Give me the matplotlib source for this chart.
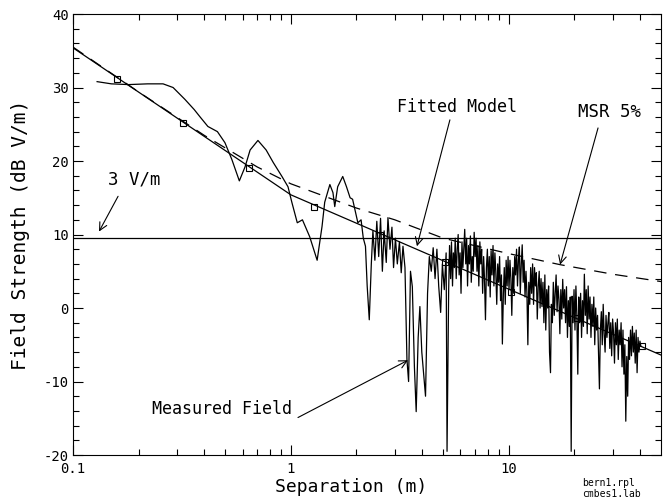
import numpy as np
import matplotlib
matplotlib.use("Agg")
import matplotlib.pyplot as plt
from matplotlib.ticker import FixedLocator, FixedFormatter

plt.rcParams['font.family'] = ['DejaVu Sans Mono']
plt.rcParams['axes.unicode_minus'] = False

# fitted model (two-slope line in log distance)
fit_x = [0.1, 1.0, 50.0]
fit_y = [35.4, 15.4, -6.4]
# square markers on the fitted model
mark_x = [0.16, 0.32, 0.64, 1.28, 2.56, 5.12, 10.24, 20.48, 40.96]
mark_y = [31.2, 25.2, 19.1, 13.8, 10.0, 6.3, 2.2, -1.4, -5.2]

# MSR 5% curve
msr_x = [0.1, 0.2, 0.4, 0.7, 1.0, 2.0, 3.0, 5.0, 10.0, 17.2, 30.0, 50.0]
msr_y = [35.5, 29.4, 23.5, 19.2, 16.9, 13.6, 12.0, 9.5, 7.4, 5.9, 4.6, 3.6]

limit_level = 9.54   # 3 V/m

# measured field, near part (smooth) and far part (dense)
meas_near = [(0.129, 30.8), (0.15, 30.5), (0.18, 30.4), (0.22, 30.5), (0.259, 30.5),
             (0.288, 30.0), (0.326, 28.4), (0.36, 27.0), (0.383, 26.0), (0.416, 24.7),
             (0.46, 24.0), (0.498, 22.5), (0.536, 20.2), (0.58, 17.3), (0.616, 19.2),
             (0.65, 21.5), (0.706, 22.8), (0.77, 21.5), (0.83, 19.8), (0.91, 17.9),
             (0.97, 16.5), (1.01, 14.4), (1.07, 11.6), (1.13, 12.0), (1.22, 9.7),
             (1.32, 6.5), (1.39, 11.1), (1.43, 14.4), (1.51, 16.8), (1.56, 15.7),
             (1.59, 13.8), (1.64, 16.5), (1.73, 17.9), (1.80, 16.5), (1.87, 15.0),
             (1.92, 14.8), (2.03, 11.6), (2.10, 12.0), (2.15, 9.5)]
meas_far = [(2.20, 8.4), (2.24, 3.0), (2.29, -1.6), (2.34, 6.0), (2.38, 10.5),
            (2.43, 6.5), (2.48, 11.8), (2.53, 7.0), (2.58, 12.2), (2.63, 5.0),
            (2.68, 10.5), (2.74, 6.2), (2.79, 12.3), (2.85, 8.0), (2.91, 11.0),
            (2.96, 5.5), (3.02, 9.5), (3.08, 6.0), (3.15, 9.0), (3.21, 4.8),
            (3.27, 8.4), (3.34, 5.5), (3.41, -7.0), (3.47, -10.0), (3.54, 5.0),
            (3.61, 2.9), (3.69, -8.0), (3.76, -14.1), (3.84, -4.0), (3.91, 0.2),
            (3.99, -6.0), (4.07, -9.0), (4.15, -12.0), (4.24, 2.0), (4.32, 7.0),
            (4.41, 5.0), (4.50, 8.2), (4.59, 4.0), (4.68, 8.0), (4.77, 3.0),
            (4.87, -0.6), (4.96, 6.0), (5.06, 2.5), (5.16, 7.5), (5.21, -19.5),
            (5.30, 2.5), (5.35, 8.5), (5.41, 4.0), (5.46, 9.0), (5.52, 3.0),
            (5.57, 7.5), (5.63, 5.5), (5.68, 9.5), (5.74, 4.0), (5.80, 8.0),
            (5.86, 10.0), (5.92, 4.5), (5.98, 7.5), (6.04, 2.0), (6.10, 9.0),
            (6.16, 5.5), (6.22, 8.0), (6.28, 10.7), (6.35, 6.0), (6.41, 9.5),
            (6.47, 3.0), (6.54, 8.5), (6.60, 6.0), (6.67, 9.8), (6.73, 3.5),
            (6.80, 7.0), (6.87, 5.0), (6.94, 10.3), (7.01, 7.0), (7.08, 9.5),
            (7.15, 5.0), (7.22, 8.5), (7.29, 3.0), (7.37, 9.0), (7.44, 6.0),
            (7.51, 8.0), (7.59, 2.0), (7.67, 7.0), (7.74, 4.0), (7.82, -1.6),
            (7.90, 5.5), (7.98, 8.0), (8.06, 3.0), (8.14, 7.0), (8.22, 1.5),
            (8.30, 7.8), (8.38, 4.5), (8.47, 8.5), (8.55, 3.0), (8.64, 7.5),
            (8.72, 5.0), (8.81, 0.5), (8.90, 6.0), (8.99, 3.5), (9.08, 7.0),
            (9.17, 1.0), (9.26, 4.5), (9.35, -4.9), (9.45, 2.0), (9.54, 5.5),
            (9.64, 0.5), (9.73, 6.5), (9.83, 3.0), (9.93, 7.0), (10.03, 2.5),
            (10.13, 6.5), (10.23, 4.0), (10.33, -1.0), (10.44, 5.5), (10.54, 2.0),
            (10.65, 7.0), (10.75, 4.5), (10.86, 8.0), (10.97, 3.0), (11.08, 6.5),
            (11.19, 8.3), (11.30, 2.0), (11.42, 6.0), (11.53, 8.6), (11.65, 3.5),
            (11.76, 6.5), (11.88, 1.5), (12.00, 5.0), (12.12, 2.0), (12.24, -5.0),
            (12.36, 3.5), (12.49, 0.5), (12.61, 5.5), (12.74, 2.0), (12.87, 6.0),
            (13.00, 0.5), (13.13, 5.5), (13.26, 3.0), (13.39, 4.8), (13.52, -1.5),
            (13.66, 3.0), (13.80, 5.0), (13.93, 0.0), (14.07, 4.0), (14.21, 0.2),
            (14.36, 3.5), (14.50, -2.0), (14.65, 4.5), (14.79, -3.0), (14.94, 2.5),
            (15.09, 0.0), (15.24, 3.0), (15.39, -6.0), (15.55, -8.8), (15.70, 0.5),
            (15.86, -2.0), (16.02, 3.5), (16.18, -1.0), (16.34, 2.0), (16.50, 4.5),
            (16.67, -0.5), (16.83, 3.0), (17.00, 1.2), (17.17, -3.5), (17.34, 2.5),
            (17.52, -1.5), (17.69, 3.9), (17.87, 0.0), (18.05, 2.5), (18.23, -2.0),
            (18.41, 2.9), (18.60, -4.0), (18.78, 1.0), (18.97, -2.5), (19.16, 1.5),
            (19.35, -19.5), (19.54, 1.6), (19.74, -2.0), (19.94, 2.5), (20.14, -3.0),
            (20.34, 3.0), (20.54, -1.0), (20.75, -9.0), (20.95, 1.5), (21.16, -2.0),
            (21.38, 2.0), (21.59, -4.0), (21.81, 1.0), (22.02, -2.5), (22.24, 4.6),
            (22.47, -1.0), (22.69, 2.5), (22.92, -3.5), (23.15, 3.0), (23.38, -1.5),
            (23.61, 1.5), (23.85, -4.0), (24.09, 0.5), (24.33, -2.5), (24.57, 1.5),
            (24.82, -5.0), (25.06, 0.0), (25.31, -3.0), (25.57, -1.0), (25.82, -6.0),
            (26.08, -11.0), (26.34, -3.0), (26.61, -0.5), (26.87, -5.0), (27.14, 0.5),
            (27.41, -3.5), (27.69, -6.0), (27.96, -1.0), (28.24, -4.0), (28.53, -2.0),
            (28.81, -0.6), (29.10, -5.5), (29.39, -2.0), (29.68, -6.5), (29.98, -1.5),
            (30.28, -3.4), (30.58, -7.5), (30.89, -2.0), (31.20, -5.0), (31.51, -1.5),
            (31.82, -7.0), (32.14, -3.0), (32.46, -5.0), (32.79, -2.0), (33.12, -8.0),
            (33.45, -3.0), (33.78, -9.0), (34.12, -5.0), (34.46, -15.4), (34.81, -6.6),
            (35.16, -12.0), (35.51, -4.0), (35.86, -7.0), (36.22, -3.0), (36.58, -6.5),
            (36.95, -2.5), (37.32, -6.0), (37.69, -3.4), (38.07, -7.5), (38.45, -3.0),
            (38.83, -8.8), (39.22, -4.0), (39.61, -6.0), (40.01, -4.5), (40.41, -5.2)]

x_ticks = [0.1, 1, 10]
x_tick_labels = ['0.1', '1', '10']
y_ticks = [-20, -10, 0, 10, 20, 30, 40]
y_tick_labels = ['-20', '-10', '0', '10', '20', '30', '40']

meas = meas_near + meas_far
meas_x = [p[0] for p in meas]
meas_y = [p[1] for p in meas]

fig = plt.figure(figsize=(6.65, 5.01), dpi=100)
ax = fig.add_axes([0.1098, 0.0918, 0.8842, 0.8802])

ax.plot(fit_x, fit_y, color='black', lw=0.9)
ax.plot(mark_x, mark_y, linestyle='none', marker='s', ms=5, mfc='none',
        mec='black', mew=0.8)
ax.plot(msr_x, msr_y, color='black', lw=0.9, dashes=(10, 7))
ax.axhline(limit_level, color='black', lw=0.9)
ax.plot(meas_x, meas_y, color='black', lw=0.9)

ax.set_xscale('log')
ax.set_xlim(0.1, 50)
ax.set_ylim(-20, 40)

ax.xaxis.set_major_locator(FixedLocator(x_ticks))
ax.xaxis.set_major_formatter(FixedFormatter(x_tick_labels))
minor_x = [m * d for d in [0.1, 1, 10] for m in range(2, 10) if m * d <= 40]
ax.xaxis.set_minor_locator(FixedLocator(minor_x))
ax.xaxis.set_minor_formatter(FixedFormatter([''] * len(minor_x)))
ax.yaxis.set_major_locator(FixedLocator(y_ticks))
ax.yaxis.set_major_formatter(FixedFormatter(y_tick_labels))
ax.yaxis.set_minor_locator(FixedLocator(list(range(-18, 40, 2))))

ax.tick_params(which='both', direction='in', top=True, right=True,
               width=0.8, labelsize=10)
ax.tick_params(axis='x', pad=5)
ax.tick_params(axis='y', pad=3)
ax.tick_params(which='major', length=7)
ax.tick_params(which='minor', length=4)
for s in ax.spines.values():
    s.set_linewidth(0.8)

ax.set_xlabel('Separation (m)', fontsize=13)
ax.xaxis.set_label_coords(0.473, -0.052)
ax.set_ylabel('Field Strength (dB V/m)', fontsize=14, labelpad=10)

arrow = dict(arrowstyle='->', color='black', lw=0.8, shrinkA=0, shrinkB=0,
             mutation_scale=14)
ax.text(0.145, 17.5, '3 V/m', fontsize=12.5, va='center')
ax.annotate('', xy=(0.1316, 10.4), xytext=(0.161, 15.2), arrowprops=arrow)
ax.text(3.07, 27.4, 'Fitted Model', fontsize=12, va='center')
ax.annotate('', xy=(3.79, 8.4), xytext=(5.37, 25.6), arrowprops=arrow)
ax.text(20.8, 26.7, 'MSR 5%', fontsize=12.5, va='center')
ax.annotate('', xy=(17.2, 5.9), xytext=(25.7, 24.5), arrowprops=arrow)
ax.text(0.2305, -13.8, 'Measured Field', fontsize=12, va='center')
ax.annotate('', xy=(3.45, -7.1), xytext=(1.078, -14.9), arrowprops=arrow)

fig.text(582 / 665, 1 - 483 / 501, 'bern1.rpl', fontsize=7, va='center')
fig.text(582 / 665, 1 - 494 / 501, 'cmbes1.lab', fontsize=7, va='center')

fig.savefig('out.png', dpi=100)
